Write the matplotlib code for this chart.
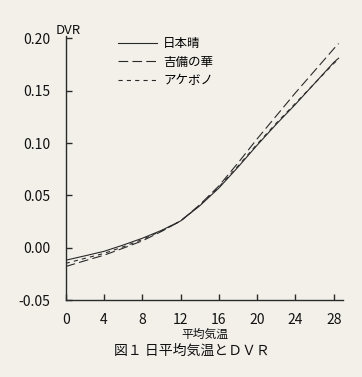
import matplotlib
matplotlib.use("Agg")
import matplotlib.pyplot as plt

plt.rcParams['font.family'] = ['Noto Sans CJK JP', 'DejaVu Sans']
plt.rcParams['lines.scale_dashes'] = False

# 日平均気温 (x) と DVR (y)
temps = [0, 2, 4, 6, 8, 10, 12, 14, 16, 18, 20, 22, 24, 26, 28, 28.5]
nihonbare = [-0.012, -0.0078, -0.0035, 0.0025, 0.009, 0.0165, 0.0255, 0.040,
             0.057, 0.077, 0.098, 0.118, 0.137, 0.157, 0.177, 0.181]
kibinohana = [-0.018, -0.0125, -0.0072, -0.0005, 0.0065, 0.0155, 0.0255, 0.041,
              0.059, 0.081, 0.104, 0.126, 0.148, 0.169, 0.190, 0.195]
akebono = [-0.015, -0.0102, -0.0055, 0.0008, 0.0078, 0.016, 0.0255, 0.0405,
           0.058, 0.078, 0.099, 0.119, 0.138, 0.157, 0.176, 0.180]

xticks = [0, 4, 8, 12, 16, 20, 24, 28]
yticks = [-0.05, 0.00, 0.05, 0.10, 0.15, 0.20]

bg = '#f3f0ea'
ink = '#2a2a2a'

fig = plt.figure(figsize=(3.62, 3.77), dpi=100, facecolor=bg)
ax = fig.add_axes([0.1815, 0.2042, 0.767, 0.6997], facecolor=bg)

ax.plot(temps, nihonbare, color=ink, lw=0.8, label='日本晴')
ax.plot(temps, kibinohana, color=ink, lw=0.8, dashes=(7, 3), label='吉備の華')
ax.plot(temps, akebono, color=ink, lw=0.8, dashes=(3, 3), label='アケボノ')

ax.set_xlim(0, 29)
ax.set_ylim(-0.05, 0.202)
ax.set_xticks(xticks)
ax.set_yticks(yticks)
ax.set_yticklabels([f'{v:.2f}' for v in yticks])
for s in ['top', 'right']:
    ax.spines[s].set_visible(False)
for s in ['left', 'bottom']:
    ax.spines[s].set_color(ink)
    ax.spines[s].set_linewidth(1.0)
ax.tick_params(axis='both', direction='in', length=4, width=1.0, color=ink,
               labelsize=10, labelcolor='#111111')
ax.tick_params(axis='x', pad=9)
ax.tick_params(axis='y', pad=11)

ax.set_xlabel('平均気温', fontsize=8.5, labelpad=1, color='#111111')
fig.text(68 / 362, 1 - 31 / 377, 'DVR', fontsize=9.5, ha='center', va='center',
         color='#111111')
fig.text(192 / 362, 1 - 351 / 377, '図１ 日平均気温とＤＶＲ', fontsize=10,
         ha='center', va='center', color='#111111')

ax.legend(loc='upper left', bbox_to_anchor=(118 / 362, 1 - 37 / 377),
          bbox_transform=fig.transFigure, frameon=False, fontsize=9,
          handlelength=3.1, handletextpad=0.5, borderpad=0, borderaxespad=0,
          labelspacing=0.45)

fig.savefig('out.png', dpi=100, facecolor=bg)
